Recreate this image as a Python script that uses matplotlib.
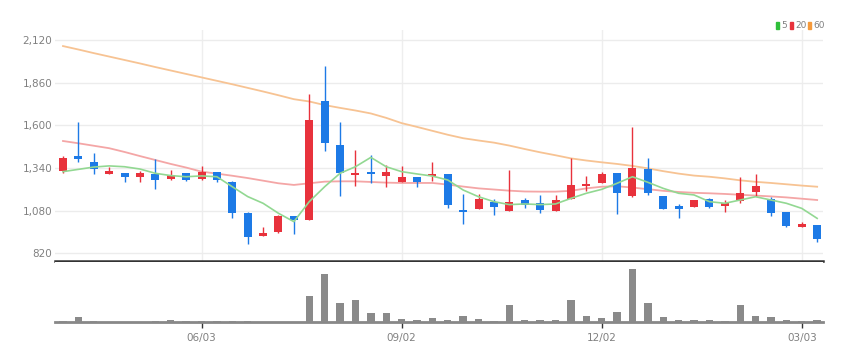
import matplotlib
matplotlib.use("Agg")
import matplotlib.pyplot as plt
from matplotlib.patches import Rectangle
import numpy as np

plt.rcParams['font.family'] = ['Liberation Sans Narrow', 'DejaVu Sans']

# Weekly OHLC (red = up, blue = down)
opens = [1323, 1410, 1378, 1305, 1309, 1284, 1305, 1272, 1309, 1272,
         1315, 1256, 1067, 927, 947, 1049, 1020, 1748, 1478, 1295,
         1313, 1293, 1254, 1284, 1293, 1301, 1081, 1091, 1132, 1075,
         1146, 1124, 1079, 1148, 1229, 1246, 1309, 1170, 1331, 1170,
         1108, 1104, 1150, 1108, 1136, 1191, 1148, 1069, 982, 992]
highs = [1413, 1622, 1429, 1343, 1311, 1321, 1394, 1327, 1311, 1352,
         1317, 1258, 1069, 977, 1050, 1049, 1791, 1963, 1622, 1449,
         1419, 1358, 1354, 1286, 1378, 1303, 1181, 1181, 1148, 1329,
         1158, 1177, 1173, 1398, 1293, 1317, 1309, 1591, 1402, 1170,
         1120, 1144, 1158, 1142, 1286, 1303, 1160, 1069, 1008, 992]
lows = [1311, 1374, 1303, 1303, 1252, 1252, 1211, 1266, 1260, 1266,
        1256, 1036, 876, 925, 945, 935, 1020, 1445, 1171, 1232,
        1250, 1221, 1254, 1221, 1262, 1097, 996, 1091, 1051, 1075,
        1095, 1063, 1079, 1148, 1197, 1246, 1059, 1164, 1175, 1087,
        1032, 1102, 1097, 1073, 1124, 1171, 1049, 980, 978, 886]
closes = [1402, 1394, 1331, 1319, 1284, 1309, 1264, 1295, 1266, 1315,
          1266, 1063, 920, 945, 1049, 1020, 1632, 1490, 1307, 1309,
          1305, 1317, 1286, 1254, 1303, 1114, 1071, 1148, 1099, 1132,
          1114, 1083, 1142, 1238, 1240, 1305, 1187, 1341, 1185, 1091,
          1091, 1142, 1102, 1126, 1189, 1228, 1063, 984, 996, 906]
volumes = [1.0, 5.0, 1.0, 0.3, 0.3, 0.3, 0.7, 2.0, 1.0, 1.0,
           1.0, 1.0, 1.0, 0.3, 0.3, 0.3, 25.7, 47.7, 19.0, 21.7,
           9.0, 9.4, 3.4, 1.7, 4.4, 2.3, 6.0, 2.7, 0.7, 17.0,
           1.7, 2.0, 2.0, 21.7, 5.7, 3.7, 10.3, 53.0, 19.0, 5.0,
           2.3, 2.3, 2.0, 0.7, 17.3, 5.7, 5.0, 2.3, 0.7, 1.7]
ma5 = [1317, 1331, 1345, 1352, 1347, 1333, 1307, 1293, 1286, 1291,
       1286, 1225, 1165, 1124, 1063, 1012, 1134, 1225, 1307, 1347,
       1404, 1347, 1317, 1303, 1290, 1266, 1205, 1164, 1134, 1116,
       1120, 1116, 1120, 1154, 1185, 1209, 1246, 1286, 1252, 1215,
       1185, 1175, 1134, 1124, 1144, 1164, 1144, 1124, 1093, 1032]
ma20 = [1504, 1490, 1475, 1460, 1437, 1412, 1388, 1364, 1342, 1317,
        1305, 1292, 1278, 1262, 1246, 1236, 1246, 1256, 1258, 1258,
        1254, 1250, 1248, 1248, 1248, 1238, 1226, 1215, 1208, 1201,
        1196, 1195, 1195, 1200, 1215, 1225, 1228, 1220, 1210, 1200,
        1193, 1188, 1185, 1181, 1176, 1171, 1166, 1160, 1152, 1144]
ma60 = [2083, 2062, 2040, 2019, 1998, 1977, 1955, 1934, 1913, 1892,
        1871, 1850, 1828, 1806, 1783, 1759, 1745, 1723, 1706, 1690,
        1672, 1645, 1613, 1590, 1566, 1542, 1521, 1507, 1494, 1476,
        1455, 1435, 1417, 1398, 1385, 1374, 1364, 1352, 1337, 1320,
        1305, 1293, 1286, 1276, 1264, 1255, 1248, 1240, 1232, 1225]

y_ticks = [820, 1080, 1340, 1600, 1860, 2120]
x_tick_pos = [9, 22, 35, 48]
x_tick_labels = ["06/03", "09/02", "12/02", "03/03"]
legend_labels = ["5", "20", "60"]

UP = '#e8323c'
DOWN = '#1d7ae6'
C5, C20, C60 = '#92d892', '#f4a6a6', '#f7c393'
LEG_COLORS = ['#2fbf3a', '#e8323c', '#f59a3b']

W, H = 860, 362
fig = plt.figure(figsize=(W / 100, H / 100), dpi=100)

def fbox(x0, y0, x1, y1):
    return [x0 / W, 1 - y1 / H, (x1 - x0) / W, (y1 - y0) / H]

ax = fig.add_axes(fbox(55, 30, 823, 261))
axv = fig.add_axes(fbox(55, 262, 823, 322))

n = len(closes)
x = np.arange(n)
o = np.array(opens); c = np.array(closes)
hi = np.array(highs); lo = np.array(lows)
up = c >= o
cols = [UP if u else DOWN for u in up]

ax.vlines(x, lo, hi, colors=cols, linewidth=1.0, zorder=3)
bottoms = np.minimum(o, c)
heights = np.maximum(np.abs(c - o), 6)
ax.bar(x, heights, bottom=bottoms, width=0.52, color=cols, zorder=4, linewidth=0)

ax.plot(x, ma60, color=C60, linewidth=1.3, zorder=2)
ax.plot(x, ma20, color=C20, linewidth=1.3, zorder=2)
ax.plot(x, ma5, color=C5, linewidth=1.2, zorder=5)

ax.set_xlim(-0.52, 49.38)
ax.set_ylim(772, 2181)
ax.set_yticks(y_ticks)
ax.set_yticklabels([f"{v:,}" for v in y_ticks])
ax.set_xticks(x_tick_pos)
ax.tick_params(axis='x', length=0, labelbottom=False)
ax.tick_params(axis='y', length=0, pad=2, labelsize=7.5, labelcolor='#808080')
ax.grid(True, axis='y', color='#ececec', linewidth=1.0, zorder=0)
ax.grid(True, axis='x', color='#eeeeee', linewidth=1.0, zorder=0)
for s in ['top', 'right', 'left']:
    ax.spines[s].set_visible(False)
ax.spines['bottom'].set_color('#333333')
ax.spines['bottom'].set_linewidth(1.8)

axv.bar(x, volumes, width=0.48, color='#8a8a8a', zorder=3, linewidth=0)
axv.set_xlim(-0.52, 49.38)
axv.set_ylim(0, 60)
axv.set_yticks([])
axv.set_xticks(x_tick_pos)
axv.set_xticklabels(x_tick_labels)
axv.tick_params(axis='x', length=4, width=1, color='#333333', pad=4,
                labelsize=7.5, labelcolor='#808080')
for s in ['top', 'right', 'left']:
    axv.spines[s].set_visible(False)
axv.spines['bottom'].set_color('#888888')
axv.spines['bottom'].set_linewidth(2.0)

# legend at top right
lx = [776, 790, 808]
for i, (lab, col) in enumerate(zip(legend_labels, LEG_COLORS)):
    x0 = lx[i]
    fig.patches.append(Rectangle((x0 / W, 1 - 29 / H), 3 / W, 7 / H,
                                 transform=fig.transFigure, color=col))
    fig.text((x0 + 5) / W, 1 - 25.5 / H, lab, fontsize=6.5, color='#808080',
             va='center', ha='left')

fig.savefig('out.png', dpi=100)
